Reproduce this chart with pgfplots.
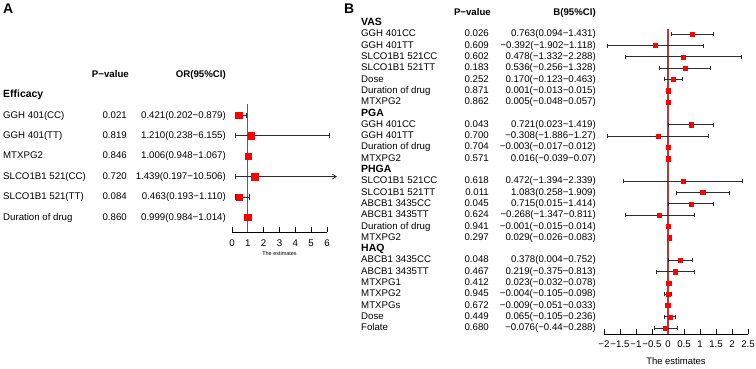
\documentclass[border=0pt]{standalone}
\usepackage{fontspec}
\setmainfont{Liberation Sans}
\usepackage{pgfplots}
\pgfplotsset{compat=1.18}
\usepackage{pgfplotstable}
\usetikzlibrary{arrows.meta}

\definecolor{zeroline}{RGB}{182,58,58}
\definecolor{boxred}{RGB}{255,0,0}
\definecolor{cigray}{RGB}{45,45,45}

\newcommand\fs{\fontsize{9.7}{11}\selectfont}
\newcommand\fb{\fontsize{9.7}{11}\bfseries\selectfont}

% Panel A: odds ratios (k = row from the top)
\pgfplotstableread{
k est lo hi
2 0.421 0.202 0.879
3 1.210 0.238 6.155
4 1.006 0.948 1.067
6 0.463 0.193 1.110
7 0.999 0.984 1.014
}\effA
% upper limit runs past the axis: drawn as an arrow
\pgfplotstableread{
k est lo hi
5 1.439 0.197 10.506
}\effAwide

% Panel B: regression coefficients
\pgfplotstableread{
k est lo hi
2 0.763 0.094 1.431
3 -0.392 -1.902 1.118
4 0.478 -1.332 2.288
5 0.536 -0.256 1.328
6 0.170 -0.123 0.463
7 0.001 -0.013 0.015
8 0.005 -0.048 0.057
10 0.721 0.023 1.419
11 -0.308 -1.886 1.27
12 -0.003 -0.017 0.012
13 0.016 -0.039 0.07
15 0.472 -1.394 2.339
16 1.083 0.258 1.909
17 0.715 0.015 1.414
18 -0.268 -1.347 0.811
19 -0.001 -0.015 0.014
20 0.029 -0.026 0.083
22 0.378 0.004 0.752
23 0.219 -0.375 0.813
24 0.023 -0.032 0.078
25 -0.004 -0.105 0.098
26 -0.009 -0.051 0.033
27 0.065 -0.105 0.236
28 -0.076 -0.44 0.288
}\effB

\pgfplotsset{
  forest/.style={
    scale only axis, clip=false,
    axis x line*=bottom, axis y line=none,
    tick align=inside, major tick length=5bp,
    every tick/.style={black, line width=0.8bp},
    axis line style={black, line width=0.8bp},
    ytick=\empty,
    tick label style={font=\fs},
    /pgf/number format/assume math mode=true,
  },
  cibar/.style 2 args={
    only marks, mark=square*, mark size=#1,
    mark options={draw=boxred, fill=boxred},
    /pgfplots/error bars/x explicit,
    /pgfplots/error bars/error mark=|,
    /pgfplots/error bars/error bar style={cigray, line width=0.8bp},
    /pgfplots/error bars/error mark options={cigray, line width=0.8bp, mark size=#2},
  },
}

% text rows: k, label, p-value, estimate (CI)
\newcommand\rowA[4]{%
  \node[anchor=mid west, inner sep=0, font=\fs, xshift=-229bp] at (axis cs:0,-#1) {#2};
  \node[anchor=mid east, inner sep=0, font=\fs, xshift=-105bp] at (axis cs:0,-#1) {#3};
  \node[anchor=mid east, inner sep=0, font=\fs, xshift=-6bp] at (axis cs:0,-#1) {#4};
}
\newcommand\rowB[4]{%
  \node[anchor=mid west, inner sep=0, font=\fs, xshift=-243bp] at (axis cs:-2,-#1) {#2};
  \node[anchor=mid east, inner sep=0, font=\fs, xshift=-115bp] at (axis cs:-2,-#1) {#3};
  \node[anchor=mid east, inner sep=0, font=\fs, xshift=-8bp] at (axis cs:-2,-#1) {#4};
}
\newcommand\headB[2]{%
  \node[anchor=mid west, inner sep=0, font=\fontsize{10.5}{11}\bfseries\selectfont, xshift=-243bp] at (axis cs:-2,-#1) {#2};
}

\begin{document}
\begin{tikzpicture}
\path[use as bounding box] (0,0) rectangle (756bp,369bp);

\node[anchor=north west, inner sep=0, font=\fontsize{14}{14}\bfseries\selectfont] at (3bp,365bp) {A};
\node[anchor=north west, inner sep=0, font=\fontsize{14}{14}\bfseries\selectfont] at (344bp,365bp) {B};

% ---------------- Panel A ----------------
\begin{axis}[forest,
  at={(232bp,137bp)}, anchor=south west,
  width=95bp, height=232bp,
  xmin=0, xmax=6, ymin=-7.716, ymax=3.657,
  xtick={0,1,...,6},
  xticklabel style={yshift=-4.5bp},
]
\addplot[zeroline, line width=1.2bp] coordinates {(1,-1.44) (1,-7.716)};
\addplot[cigray, line width=0.8bp, -{Straight Barb[length=4bp,width=5bp]}]
  coordinates {(1.439,-5) (6.63,-5)};
\addplot[cibar={3.2bp}{2.6bp}, /pgfplots/error bars/x dir=both] table[x=est, y expr=-\thisrow{k},
  x error plus expr=\thisrow{hi}-\thisrow{est},
  x error minus expr=\thisrow{est}-\thisrow{lo}] {\effA};
\addplot[cibar={3.2bp}{2.6bp}, /pgfplots/error bars/x dir=minus] table[x=est, y expr=-\thisrow{k},
  x error minus expr=\thisrow{est}-\thisrow{lo}] {\effAwide};

\node[anchor=mid east, inner sep=0, font=\fb, xshift=-103bp] at (axis cs:0,0) {P−value};
\node[anchor=mid east, inner sep=0, font=\fb, xshift=-6bp] at (axis cs:0,0) {OR(95\%CI)};
\node[anchor=mid west, inner sep=0, font=\fontsize{10.5}{11}\bfseries\selectfont, xshift=-229bp] at (axis cs:0,-1) {Efficacy};
\rowA{2}{GGH 401(CC)}{0.021}{0.421(0.202−0.879)}
\rowA{3}{GGH 401(TT)}{0.819}{1.210(0.238−6.155)}
\rowA{4}{MTXPG2}{0.846}{1.006(0.948−1.067)}
\rowA{5}{SLCO1B1 521(CC)}{0.720}{1.439(0.197−10.506)}
\rowA{6}{SLCO1B1 521(TT)}{0.084}{0.463(0.193−1.110)}
\rowA{7}{Duration of drug}{0.860}{0.999(0.984−1.014)}
\node[font=\fontsize{5.5}{6}\selectfont, yshift=-22bp] at (rel axis cs:0.5,0) {The estimates};
\end{axis}

% ---------------- Panel B ----------------
\begin{axis}[forest,
  at={(604bp,35bp)}, anchor=south west,
  width=144bp, height=334bp,
  xmin=-2, xmax=2.5, ymin=-28.52, ymax=1.035,
  xtick={-2,-1.5,...,2.5},
  xticklabels={−2,−1.5,−1,−0.5,0,0.5,1,1.5,2,2.5},
  xticklabel style={yshift=-3.5bp},
]
\addplot[zeroline, line width=1.2bp] coordinates {(0,-1.53) (0,-28.52)};
\addplot[cibar={2.1bp}{2bp}, /pgfplots/error bars/x dir=both] table[x=est, y expr=-\thisrow{k},
  x error plus expr=\thisrow{hi}-\thisrow{est},
  x error minus expr=\thisrow{est}-\thisrow{lo}] {\effB};

\node[anchor=mid east, inner sep=0, font=\fb, xshift=-113bp] at (axis cs:-2,-0.1) {P−value};
\node[anchor=mid east, inner sep=0, font=\fb, xshift=-8bp] at (axis cs:-2,-0.1) {B(95\%CI)};
\headB{1}{VAS}
\rowB{2}{GGH 401CC}{0.026}{0.763(0.094−1.431)}
\rowB{3}{GGH 401TT}{0.609}{−0.392(−1.902−1.118)}
\rowB{4}{SLCO1B1 521CC}{0.602}{0.478(−1.332−2.288)}
\rowB{5}{SLCO1B1 521TT}{0.183}{0.536(−0.256−1.328)}
\rowB{6}{Dose}{0.252}{0.170(−0.123−0.463)}
\rowB{7}{Duration of drug}{0.871}{0.001(−0.013−0.015)}
\rowB{8}{MTXPG2}{0.862}{0.005(−0.048−0.057)}
\headB{9}{PGA}
\rowB{10}{GGH 401CC}{0.043}{0.721(0.023−1.419)}
\rowB{11}{GGH 401TT}{0.700}{−0.308(−1.886−1.27)}
\rowB{12}{Duration of drug}{0.704}{−0.003(−0.017−0.012)}
\rowB{13}{MTXPG2}{0.571}{0.016(−0.039−0.07)}
\headB{14}{PHGA}
\rowB{15}{SLCO1B1 521CC}{0.618}{0.472(−1.394−2.339)}
\rowB{16}{SLCO1B1 521TT}{0.011}{1.083(0.258−1.909)}
\rowB{17}{ABCB1 3435CC}{0.045}{0.715(0.015−1.414)}
\rowB{18}{ABCB1 3435TT}{0.624}{−0.268(−1.347−0.811)}
\rowB{19}{Duration of drug}{0.941}{−0.001(−0.015−0.014)}
\rowB{20}{MTXPG2}{0.297}{0.029(−0.026−0.083)}
\headB{21}{HAQ}
\rowB{22}{ABCB1 3435CC}{0.048}{0.378(0.004−0.752)}
\rowB{23}{ABCB1 3435TT}{0.467}{0.219(−0.375−0.813)}
\rowB{24}{MTXPG1}{0.412}{0.023(−0.032−0.078)}
\rowB{25}{MTXPG2}{0.945}{−0.004(−0.105−0.098)}
\rowB{26}{MTXPGs}{0.672}{−0.009(−0.051−0.033)}
\rowB{27}{Dose}{0.449}{0.065(−0.105−0.236)}
\rowB{28}{Folate}{0.680}{−0.076(−0.44−0.288)}
\node[font=\fontsize{9.5}{10}\selectfont, yshift=-27bp] at (rel axis cs:0.5,0) {The estimates};
\end{axis}
\end{tikzpicture}
\end{document}
